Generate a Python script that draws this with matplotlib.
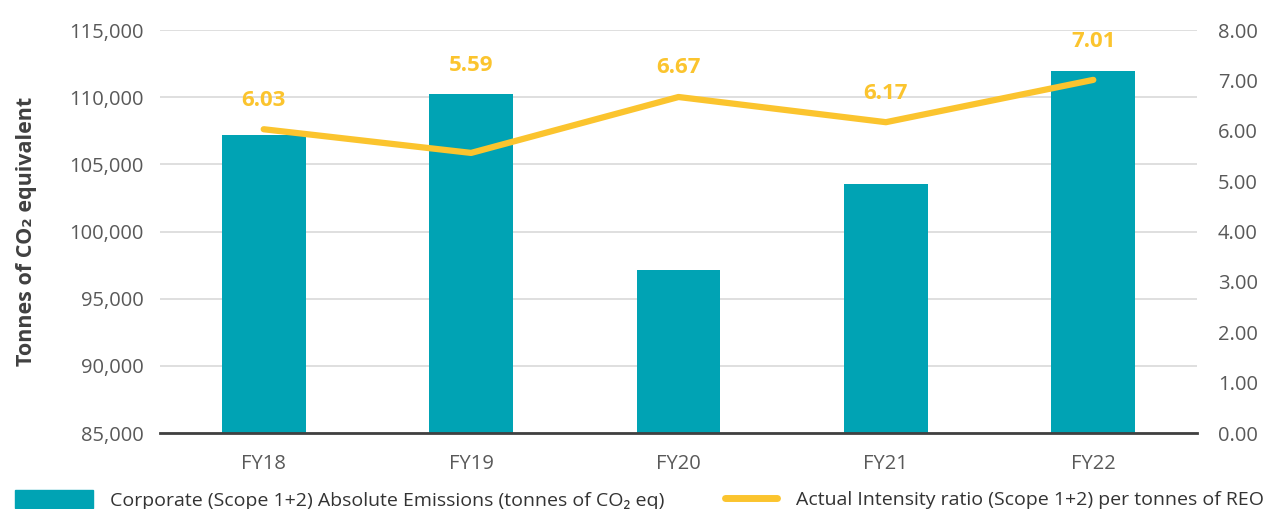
import matplotlib
matplotlib.use('Agg')
import matplotlib.pyplot as plt
from matplotlib.patches import Patch
from matplotlib.lines import Line2D
from matplotlib.ticker import FuncFormatter

years = ['FY18', 'FY19', 'FY20', 'FY21', 'FY22']
emissions = [107200, 110200, 97100, 103500, 111950]
intensity = [6.03, 5.56, 6.67, 6.17, 7.01]
intensity_labels = ['6.03', '5.59', '6.67', '6.17', '7.01']

TEAL = '#00A3B4'
YELLOW = '#FBC42E'
GREY = '#595959'
DARK = '#404040'

plt.rcParams['font.family'] = ['Open Sans', 'DejaVu Sans']

fig = plt.figure(figsize=(12.66, 5.09), dpi=100)
ax = fig.add_axes([160 / 1266, 1 - 433 / 509, 1037 / 1266, 403 / 509])
ax2 = ax.twinx()

x = list(range(len(years)))
ax.bar(x, emissions, width=0.405, color=TEAL, zorder=3)
ax.set_ylim(85000, 115000)
ax.set_xlim(-0.5, 4.5)
ax.set_yticks(range(85000, 115001, 5000))
ax.yaxis.set_major_formatter(FuncFormatter(lambda v, p: f'{v:,.0f}'))
ax.grid(axis='y', color='#d9d9d9', linewidth=1.2, zorder=0)
ax.set_xticks(x)
ax.set_xticklabels(years)
ax.tick_params(axis='y', length=0, labelsize=14.5, colors=GREY, pad=12)
ax.tick_params(axis='x', length=0, labelsize=14.5, colors=GREY, pad=15)
for s in ['top', 'right', 'left']:
    ax.spines[s].set_visible(False)
ax.spines['bottom'].set_color(DARK)
ax.spines['bottom'].set_linewidth(2)
ax.spines['bottom'].set_zorder(5)
ax.set_ylabel('Tonnes of CO₂ equivalent', fontsize=15.5, fontweight='bold', color=DARK, labelpad=23)

ax2.plot(x, intensity, color=YELLOW, linewidth=4.5, solid_capstyle='round', zorder=4)
ax2.set_ylim(0, 8)
ax2.set_yticks(range(0, 9))
ax2.yaxis.set_major_formatter(FuncFormatter(lambda v, p: f'{v:.2f}'))
ax2.tick_params(axis='y', length=0, labelsize=14.5, colors=GREY, pad=15)
for s in ax2.spines.values():
    s.set_visible(False)

# labels sit above whichever is higher: the bar top or the line point
for i in x:
    bar_in_right = (emissions[i] - 85000) / 30000 * 8
    top = max(bar_in_right, intensity[i])
    ax2.annotate(intensity_labels[i], (i, top), xytext=(0, 21), textcoords='offset points',
                 ha='center', va='center', fontsize=16, fontweight='bold', color=YELLOW)

fig.legend(handles=[Patch(color=TEAL)],
           labels=['Corporate (Scope 1+2) Absolute Emissions (tonnes of CO₂ eq)'],
           loc='center left', bbox_to_anchor=(-0.002, 9 / 509), frameon=False,
           fontsize=14, handlelength=4.0, handleheight=1.0, handletextpad=0.9,
           labelcolor='#333333')
fig.legend(handles=[Line2D([0], [0], color=YELLOW, linewidth=5, solid_capstyle='round')],
           labels=['Actual Intensity ratio (Scope 1+2) per tonnes of REO'],
           loc='center left', bbox_to_anchor=(707 / 1266, 9 / 509), frameon=False,
           fontsize=14, handlelength=2.7, handletextpad=1.0, labelcolor='#333333')

fig.savefig('out.png', dpi=100)
